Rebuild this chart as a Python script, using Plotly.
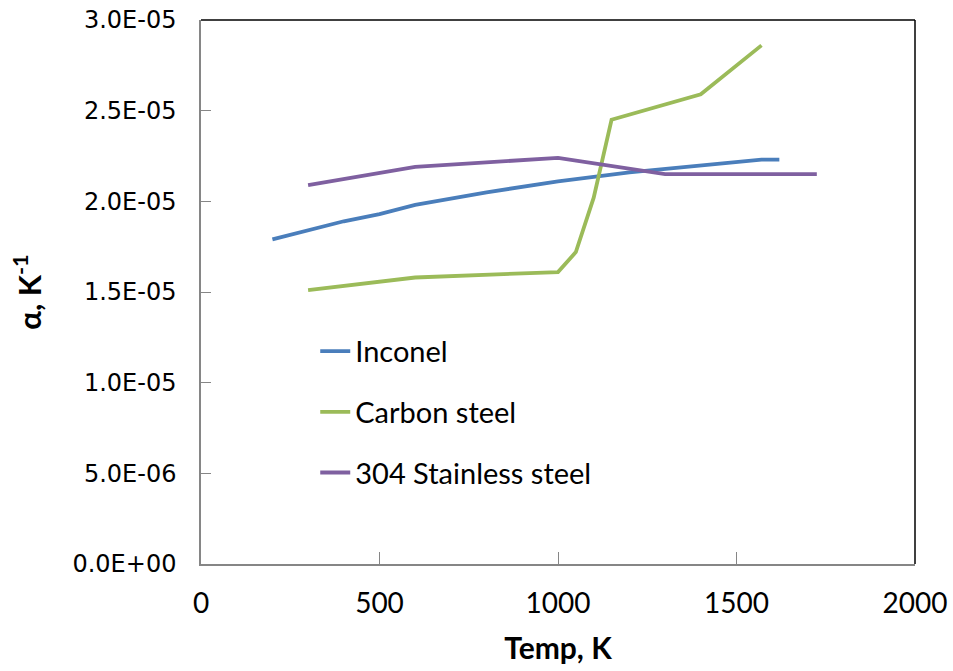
import plotly.graph_objects as go

# Thermal expansion coefficient vs temperature
inconel_T = [200, 400, 500, 600, 800, 1000, 1200, 1400, 1570, 1620]
inconel_a = [1.79e-05, 1.89e-05, 1.93e-05, 1.98e-05, 2.05e-05, 2.11e-05, 2.16e-05, 2.20e-05, 2.23e-05, 2.23e-05]

carbon_T = [300, 600, 1000, 1050, 1100, 1150, 1400, 1570]
carbon_a = [1.51e-05, 1.58e-05, 1.61e-05, 1.72e-05, 2.02e-05, 2.45e-05, 2.59e-05, 2.86e-05]

ss304_T = [300, 600, 1000, 1300, 1725]
ss304_a = [2.09e-05, 2.19e-05, 2.24e-05, 2.15e-05, 2.15e-05]

y_tickvals = [0, 5e-06, 1e-05, 1.5e-05, 2e-05, 2.5e-05, 3e-05]
y_ticktext = ["0.0E+00", "5.0E-06", "1.0E-05", "1.5E-05", "2.0E-05", "2.5E-05", "3.0E-05"]
x_tickvals = [0, 500, 1000, 1500, 2000]

BODY = "Lato, Carlito, 'Open Sans', sans-serif"

fig = go.Figure()
series = [
    ("Inconel", inconel_T, inconel_a, "#4A7EBB"),
    ("Carbon steel", carbon_T, carbon_a, "#9BBB59"),
    ("304 Stainless steel", ss304_T, ss304_a, "#7F60A0"),
]
for name, xs, ys, col in series:
    fig.add_trace(go.Scatter(
        x=xs, y=ys, mode="lines", name=name, legendgroup=name,
        line=dict(color=col, width=3.8),
    ))

# black frame on top and right of the plot area
fig.add_shape(type="line", xref="paper", yref="paper", x0=0, x1=1, y0=1, y1=1,
              line=dict(color="black", width=1.5))
fig.add_shape(type="line", xref="paper", yref="paper", x0=1, x1=1, y0=0, y1=1,
              line=dict(color="black", width=1.5))

fig.update_layout(
    width=953, height=671,
    margin=dict(l=201, r=38, t=20, b=107),
    plot_bgcolor="white", paper_bgcolor="white",
    showlegend=True,
    legend=dict(
        x=0.16, y=0.438, xanchor="left", yanchor="top",
        font=dict(family=BODY, size=29, color="black"),
        bgcolor="rgba(0,0,0,0)", tracegroupgap=20, traceorder="grouped",
    ),
    xaxis=dict(
        range=[0, 2000], tickvals=x_tickvals, automargin=False,
        showgrid=False, zeroline=False,
        showline=True, linecolor="#868686", linewidth=1.5,
        ticks="inside", ticklen=12, tickcolor="#868686", tickwidth=1,
        ticklabelstandoff=14, ticklabeloverflow="allow",
        tickfont=dict(family=BODY, size=28, color="black"),
        title=dict(text="<b>Temp, K</b>", font=dict(family=BODY, size=30, color="black"), standoff=20),
    ),
    yaxis=dict(
        range=[0, 3e-05], tickvals=y_tickvals, ticktext=y_ticktext, automargin=False,
        showgrid=False, zeroline=False,
        showline=True, linecolor="#868686", linewidth=1.5,
        ticks="inside", ticklen=10, tickcolor="#868686", tickwidth=1,
        ticklabelstandoff=18, ticklabeloverflow="allow",
        tickfont=dict(family="'DejaVu Sans', sans-serif", size=24, color="black"),
        title=dict(text="<b>α, K<sup>-1</sup></b>", font=dict(family=BODY, size=31, color="black"), standoff=22),
    ),
)

fig.write_html("out.html")
